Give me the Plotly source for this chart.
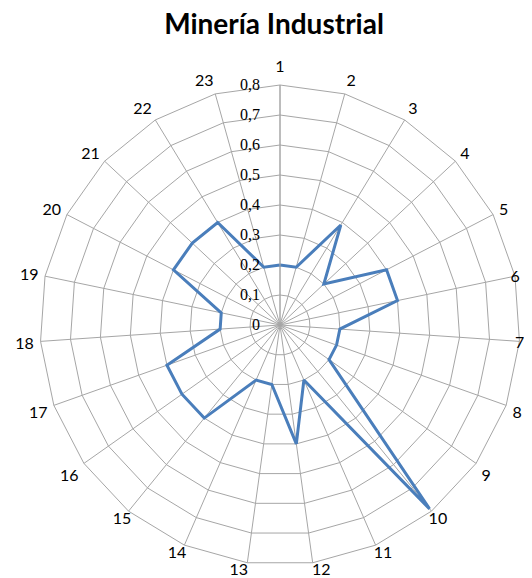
import plotly.graph_objects as go

categories = [str(i) for i in range(1, 24)]
values = [0.2, 0.2, 0.39, 0.2, 0.4, 0.4, 0.2, 0.2, 0.2, 0.79, 0.2, 0.4,
          0.2, 0.2, 0.4, 0.4, 0.4, 0.2, 0.2, 0.4, 0.4, 0.4, 0.2]
radial_ticks = [0, 0.1, 0.2, 0.3, 0.4, 0.5, 0.6, 0.7, 0.8]
radial_ticktext = ["0", "0,1", "0,2", "0,3", "0,4", "0,5", "0,6", "0,7", "0,8"]

W, H = 532, 578
OFF = 8  # default body margin of the html page

# which category labels are carried by which (label) polar subplot
inner_labels = categories[5:7] + categories[9:15]   # 6,7 and 10..15 sit closer
top_label = categories[:1]                           # 1 sits a bit further out
side_labels = [c for c in categories if c not in inner_labels + top_label]

fig = go.Figure()
fig.add_trace(go.Scatterpolar(
    r=values + values[:1],
    theta=categories + categories[:1],
    mode="lines",
    line=dict(color="#4a7ebb", width=3),
    showlegend=False,
    subplot="polar",
))
for sp in ("polar2", "polar3"):
    fig.add_trace(go.Scatterpolar(
        r=[0] * len(categories), theta=categories, mode="markers",
        marker=dict(opacity=0), showlegend=False, hoverinfo="skip",
        subplot=sp,
    ))

cx, cy, R = 280 - OFF, 325 - OFF, 240

def dom(r):
    return dict(x=[(cx - r) / W, (cx + r) / W],
                y=[(H - cy - r) / H, (H - cy + r) / H])

def label_axis(shown, ticklen=0):
    return dict(
        type="category", categoryarray=categories,
        rotation=90, direction="clockwise",
        tickmode="array", tickvals=categories,
        ticktext=[c if c in shown else "" for c in categories],
        showline=False, showgrid=False,
        ticks="outside" if ticklen else "", ticklen=ticklen,
        tickcolor="rgba(0,0,0,0)",
        tickfont=dict(family="Lato", size=16, color="black"),
    )

fig.update_layout(
    width=W, height=H,
    margin=dict(l=0, r=0, t=0, b=0),
    paper_bgcolor="white",
    title=dict(text="<b>Minería Industrial</b>", x=(274 - OFF) / W, xanchor="center",
               y=1 - (24 - OFF) / H, yanchor="middle",
               font=dict(family="Lato", size=28, color="black")),
    polar2=dict(domain=dom(235), bgcolor="rgba(0,0,0,0)", gridshape="linear",
                angularaxis=label_axis(inner_labels),
                radialaxis=dict(visible=False, range=[0, 0.8])),
    polar3=dict(domain=dom(249), bgcolor="rgba(0,0,0,0)", gridshape="linear",
                angularaxis=label_axis(top_label),
                radialaxis=dict(visible=False, range=[0, 0.8])),
    polar=dict(
        domain=dom(R),
        bgcolor="rgba(0,0,0,0)",
        gridshape="linear",
        angularaxis=dict(
            type="category",
            categoryarray=categories,
            rotation=90,
            direction="clockwise",
            tickmode="array", tickvals=categories,
            ticktext=[c if c in side_labels else "" for c in categories],
            showline=True, linecolor="#a6a6a6", linewidth=1,
            gridcolor="#a6a6a6", gridwidth=1,
            ticks="outside", ticklen=3, tickcolor="rgba(0,0,0,0)",
            tickfont=dict(family="Lato", size=16, color="black"),
        ),
        radialaxis=dict(
            range=[0, 0.8],
            tickvals=radial_ticks, ticktext=radial_ticktext,
            angle=90, tickangle=90,
            side="counterclockwise",
            showline=True, linecolor="#a6a6a6", linewidth=1,
            gridcolor="#a6a6a6", gridwidth=1,
            ticks="outside", ticklen=14, tickcolor="rgba(0,0,0,0)",
            tickfont=dict(family="Liberation Serif", size=16, color="black"),
        ),
    ),
)

fig.write_html("out.html")
